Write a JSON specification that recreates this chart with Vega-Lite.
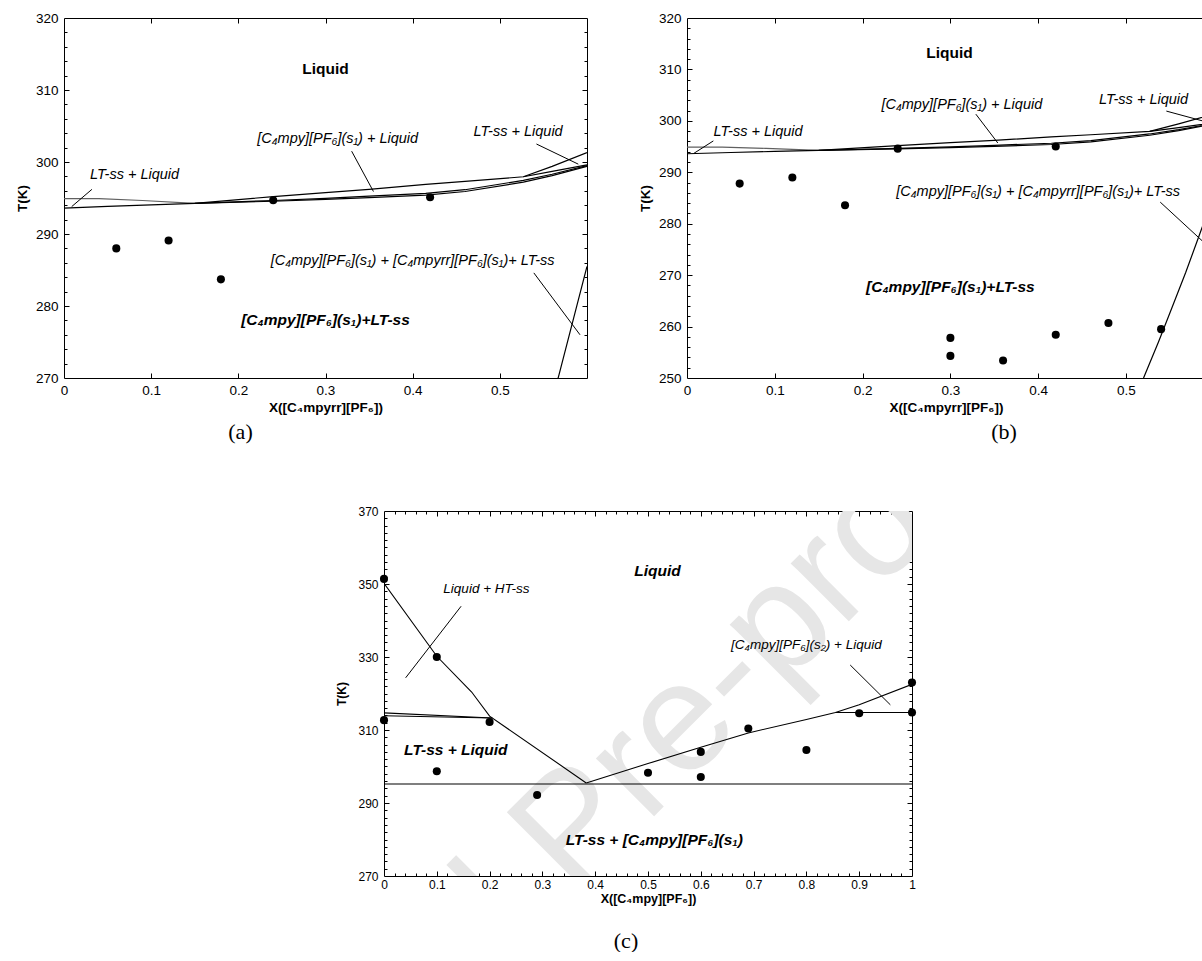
{
  "$schema": "https://vega.github.io/schema/vega-lite/v6.json",
  "background": "white",
  "padding": {"left": 14, "top": 10, "right": 0, "bottom": 0},
  "datasets": {
    "cab": [
      {"c":"lo1","x":0,"T":293.6},{"c":"lo1","x":0.05,"T":293.85},{"c":"lo1","x":0.1,"T":294.05},{"c":"lo1","x":0.15,"T":294.25},{"c":"lo1","x":0.24,"T":294.55},{"c":"lo1","x":0.3,"T":294.8},{"c":"lo1","x":0.35,"T":295.05},{"c":"lo1","x":0.415,"T":295.4},{"c":"lo1","x":0.46,"T":295.9},{"c":"lo1","x":0.527,"T":297.2},{"c":"lo1","x":0.56,"T":298.1},{"c":"lo1","x":0.6,"T":299.4},
      {"c":"lo2","x":0.15,"T":294.25},{"c":"lo2","x":0.24,"T":294.65},{"c":"lo2","x":0.3,"T":294.95},{"c":"lo2","x":0.35,"T":295.25},{"c":"lo2","x":0.415,"T":295.65},{"c":"lo2","x":0.46,"T":296.15},{"c":"lo2","x":0.527,"T":297.45},{"c":"lo2","x":0.56,"T":298.3},{"c":"lo2","x":0.6,"T":299.5},
      {"c":"up","x":0.15,"T":294.25},{"c":"up","x":0.24,"T":295.2},{"c":"up","x":0.3,"T":295.75},{"c":"up","x":0.35,"T":296.2},{"c":"up","x":0.415,"T":296.9},{"c":"up","x":0.46,"T":297.3},{"c":"up","x":0.527,"T":297.95},{"c":"up","x":0.56,"T":298.7},{"c":"up","x":0.6,"T":299.6},
      {"c":"up2","x":0.527,"T":297.95},{"c":"up2","x":0.56,"T":299.4},{"c":"up2","x":0.6,"T":301.3},
      {"c":"st","x":0.52,"T":250},{"c":"st","x":0.537,"T":257},{"c":"st","x":0.552,"T":263.5},{"c":"st","x":0.568,"T":270.5},{"c":"st","x":0.584,"T":278},{"c":"st","x":0.6,"T":285.5}
    ],
    "cab_g": [
      {"c":"g","x":0,"T":294.9},{"c":"g","x":0.04,"T":294.9},{"c":"g","x":0.09,"T":294.65},{"c":"g","x":0.15,"T":294.25}
    ],
    "pa": [
      {"x":0.06,"T":288.0},{"x":0.12,"T":289.1},{"x":0.18,"T":283.7},{"x":0.24,"T":294.7},{"x":0.42,"T":295.1}
    ],
    "pb": [
      {"x":0.06,"T":287.8},{"x":0.12,"T":289.0},{"x":0.18,"T":283.6},{"x":0.24,"T":294.6},{"x":0.42,"T":295.0},
      {"x":0.30,"T":257.8},{"x":0.30,"T":254.3},{"x":0.36,"T":253.4},{"x":0.42,"T":258.4},{"x":0.48,"T":260.7},{"x":0.54,"T":259.5}
    ],
    "lda": [
      {"x":0.0088,"T":293.8,"x2":0.032,"T2":296.2},
      {"x":0.33,"T":301.5,"x2":0.355,"T2":295.9},
      {"x":0.542,"T":302.5,"x2":0.59,"T2":299.7},
      {"x":0.539,"T":284.6,"x2":0.592,"T2":276.0}
    ],
    "ldb": [
      {"x":0.008,"T":293.7,"x2":0.03,"T2":296.1},
      {"x":0.329,"T":301.3,"x2":0.354,"T2":295.7},
      {"x":0.546,"T":301.9,"x2":0.6,"T2":299.4},
      {"x":0.539,"T":284.2,"x2":0.6,"T2":274.6}
    ],
    "ta_i": [
      {"x":0.081,"T":298.2,"t":"LT-ss + Liquid"},
      {"x":0.314,"T":303.2,"t":"[C₄mpy][PF₆](s₁) + Liquid"},
      {"x":0.521,"T":304.1,"t":"LT-ss + Liquid"},
      {"x":0.40,"T":286.2,"t":"[C₄mpy][PF₆](s₁) + [C₄mpyrr][PF₆](s₁)+ LT-ss"}
    ],
    "ta_b": [{"x":0.30,"T":312.9,"t":"Liquid"}],
    "ta_bi": [{"x":0.30,"T":278.1,"t":"[C₄mpy][PF₆](s₁)+LT-ss"}],
    "tb_i": [
      {"x":0.081,"T":297.9,"t":"LT-ss + Liquid"},
      {"x":0.313,"T":303.0,"t":"[C₄mpy][PF₆](s₁) + Liquid"},
      {"x":0.52,"T":304.0,"t":"LT-ss + Liquid"},
      {"x":0.40,"T":286.1,"t":"[C₄mpy][PF₆](s₁) + [C₄mpyrr][PF₆](s₁)+ LT-ss"}
    ],
    "tb_b": [{"x":0.299,"T":313.2,"t":"Liquid"}],
    "tb_bi": [{"x":0.30,"T":267.7,"t":"[C₄mpy][PF₆](s₁)+LT-ss"}],
    "cc": [
      {"c":"liqL","x":0,"T":350.2},{"c":"liqL","x":0.1,"T":330.2},{"c":"liqL","x":0.166,"T":320.4},{"c":"liqL","x":0.2,"T":313.8},{"c":"liqL","x":0.383,"T":295.5},
      {"c":"liqR","x":0.383,"T":295.5},{"c":"liqR","x":0.5,"T":300.8},{"c":"liqR","x":0.6,"T":305.3},{"c":"liqR","x":0.69,"T":309.2},{"c":"liqR","x":0.8,"T":312.9},{"c":"liqR","x":0.855,"T":314.8},{"c":"liqR","x":0.9,"T":316.9},{"c":"liqR","x":1.0,"T":322.5},
      {"c":"eut","x":0,"T":295.2},{"c":"eut","x":1,"T":295.2},
      {"c":"lt1","x":0,"T":314.7},{"c":"lt1","x":0.205,"T":313.3},
      {"c":"lt2","x":0,"T":313.9},{"c":"lt2","x":0.205,"T":313.3},
      {"c":"rh","x":0.855,"T":314.8},{"c":"rh","x":1.0,"T":314.8}
    ],
    "pc": [
      {"x":0,"T":351.4},{"x":0.1,"T":330.0},{"x":0,"T":312.7},{"x":0.2,"T":312.2},{"x":0.1,"T":298.7},{"x":0.29,"T":292.2},
      {"x":0.5,"T":298.3},{"x":0.6,"T":304.0},{"x":0.6,"T":297.1},{"x":0.69,"T":310.4},{"x":0.8,"T":304.5},{"x":0.9,"T":314.6},{"x":1.0,"T":314.8},{"x":1.0,"T":323.0}
    ],
    "ldc": [
      {"x":0.146,"T":343.9,"x2":0.041,"T2":324.3},
      {"x":0.883,"T":327.8,"x2":0.959,"T2":316.9}
    ],
    "tc_i": [
      {"x":0.194,"T":348.6,"t":"Liquid + HT-ss"},
      {"x":0.80,"T":333.2,"t":"[C₄mpy][PF₆](s₂) + Liquid"}
    ],
    "tc_bi": [
      {"x":0.518,"T":353.5,"t":"Liquid"},
      {"x":0.136,"T":304.5,"t":"LT-ss + Liquid"},
      {"x":0.512,"T":279.8,"t":"LT-ss + [C₄mpy][PF₆](s₁)"}
    ],
    "wm": [{"x":0.358,"T":264.2,"t":"Journal Pre-proof"}]
  },
  "vconcat": [
    {
      "hconcat": [
        {
          "width": 523,
          "height": 360,
          "title": {"text": "(a)", "orient": "bottom", "anchor": "middle", "offset": 8, "dx": -85},
          "resolve": {"axis": {"x": "independent", "y": "independent"}},
          "layer": [
            {
              "data": {"name": "cab_g"},
              "mark": {"type": "line", "color": "#606060", "strokeWidth": 1.2, "clip": true},
              "encoding": {
                "x": {"field": "x", "type": "quantitative", "scale": {"domain": [0, 0.6], "nice": false, "zero": false},
                      "axis": {"orient": "bottom", "values": [0, 0.1, 0.2, 0.3, 0.4, 0.5], "format": ".1~f", "labelFontSize": 13.5, "labelPadding": 5, "labelFlush": false, "labelOverlap": false, "title": "X([C₄mpyrr][PF₆])", "titleFontSize": 13.5, "titleFontWeight": "bold", "titlePadding": 4}},
                "y": {"field": "T", "type": "quantitative", "scale": {"domain": [270, 320], "nice": false, "zero": false},
                      "axis": {"orient": "left", "values": [270, 280, 290, 300, 310, 320], "labelFontSize": 13.5, "labelPadding": 6, "labelFlush": false, "labelOverlap": false, "title": "T(K)", "titleFontSize": 13.5, "titleFontWeight": "bold", "titlePadding": 6}}
              }
            },
            {
              "data": {"name": "cab"},
              "mark": {"type": "line", "color": "black", "strokeWidth": 1.2, "clip": true},
              "encoding": {
                "x": {"field": "x", "type": "quantitative", "scale": {"domain": [0, 0.6], "nice": false, "zero": false},
                      "axis": {"orient": "bottom", "values": [0.1, 0.2, 0.3, 0.4, 0.5], "labels": false, "ticks": true, "tickSize": 5, "offset": -5, "title": null}},
                "y": {"field": "T", "type": "quantitative", "scale": {"domain": [270, 320], "nice": false, "zero": false},
                      "axis": {"orient": "left", "values": [280, 290, 300, 310], "labels": false, "ticks": true, "tickSize": 5, "offset": -5, "title": null}},
                "detail": {"field": "c"}
              }
            },
            {
              "data": {"name": "pa"},
              "mark": {"type": "circle", "color": "black", "opacity": 1, "size": 65},
              "encoding": {
                "x": {"field": "x", "type": "quantitative", "scale": {"domain": [0, 0.6], "nice": false, "zero": false},
                      "axis": {"orient": "top", "values": [0.1, 0.2, 0.3, 0.4, 0.5], "labels": false, "ticks": true, "tickSize": 5, "offset": -5, "title": null}},
                "y": {"field": "T", "type": "quantitative", "scale": {"domain": [270, 320], "nice": false, "zero": false},
                      "axis": {"orient": "right", "values": [280, 290, 300, 310], "labels": false, "ticks": true, "tickSize": 5, "offset": -5, "title": null}}
              }
            },
            {
              "data": {"name": "lda"},
              "mark": {"type": "rule", "color": "black", "strokeWidth": 1, "clip": true},
              "encoding": {
                "x": {"field": "x", "type": "quantitative", "scale": {"domain": [0, 0.6], "nice": false, "zero": false}, "axis": null},
                "y": {"field": "T", "type": "quantitative", "scale": {"domain": [270, 320], "nice": false, "zero": false},
                      "axis": {"orient": "left", "values": [272,274,276,278,282,284,286,288,292,294,296,298,302,304,306,308,312,314,316,318], "labels": false, "ticks": true, "tickSize": 3, "offset": -3, "title": null}},
                "x2": {"field": "x2"},
                "y2": {"field": "T2"}
              }
            },
            {
              "data": {"name": "ta_i"},
              "mark": {"type": "text", "fontStyle": "italic", "fontSize": 14.5, "color": "black"},
              "encoding": {
                "x": {"field": "x", "type": "quantitative", "scale": {"domain": [0, 0.6], "nice": false, "zero": false}, "axis": null},
                "y": {"field": "T", "type": "quantitative", "scale": {"domain": [270, 320], "nice": false, "zero": false},
                      "axis": {"orient": "right", "values": [272,274,276,278,282,284,286,288,292,294,296,298,302,304,306,308,312,314,316,318], "labels": false, "ticks": true, "tickSize": 3, "offset": -3, "title": null}},
                "text": {"field": "t"}
              }
            },
            {
              "data": {"name": "ta_b"},
              "mark": {"type": "text", "fontWeight": "bold", "fontSize": 15.5, "color": "black"},
              "encoding": {
                "x": {"field": "x", "type": "quantitative", "scale": {"domain": [0, 0.6], "nice": false, "zero": false}, "axis": null},
                "y": {"field": "T", "type": "quantitative", "scale": {"domain": [270, 320], "nice": false, "zero": false}, "axis": null},
                "text": {"field": "t"}
              }
            },
            {
              "data": {"name": "ta_bi"},
              "mark": {"type": "text", "fontWeight": "bold", "fontStyle": "italic", "fontSize": 15.5, "color": "black"},
              "encoding": {
                "x": {"field": "x", "type": "quantitative", "scale": {"domain": [0, 0.6], "nice": false, "zero": false}, "axis": null},
                "y": {"field": "T", "type": "quantitative", "scale": {"domain": [270, 320], "nice": false, "zero": false}, "axis": null},
                "text": {"field": "t"}
              }
            }
          ]
        },
        {
          "width": 518,
          "height": 360,
          "view": {"stroke": null},
          "title": {"text": "(b)", "orient": "bottom", "anchor": "middle", "offset": 8, "dx": 58},
          "resolve": {"axis": {"x": "independent", "y": "independent"}},
          "layer": [
            {
              "data": {"name": "cab_g"},
              "mark": {"type": "line", "color": "#606060", "strokeWidth": 1.2, "clip": true},
              "encoding": {
                "x": {"field": "x", "type": "quantitative", "scale": {"domain": [0, 0.59], "nice": false, "zero": false},
                      "axis": {"orient": "bottom", "values": [0, 0.1, 0.2, 0.3, 0.4, 0.5], "format": ".1~f", "labelFontSize": 13.5, "labelPadding": 5, "labelFlush": false, "labelOverlap": false, "title": "X([C₄mpyrr][PF₆])", "titleFontSize": 13.5, "titleFontWeight": "bold", "titlePadding": 4, "domain": true}},
                "y": {"field": "T", "type": "quantitative", "scale": {"domain": [250, 320], "nice": false, "zero": false},
                      "axis": {"orient": "left", "values": [250, 260, 270, 280, 290, 300, 310, 320], "labelFontSize": 13.5, "labelPadding": 6, "labelFlush": false, "labelOverlap": false, "title": "T(K)", "titleFontSize": 13.5, "titleFontWeight": "bold", "titlePadding": 6, "domain": true}}
              }
            },
            {
              "data": {"name": "cab"},
              "mark": {"type": "line", "color": "black", "strokeWidth": 1.2, "clip": true},
              "encoding": {
                "x": {"field": "x", "type": "quantitative", "scale": {"domain": [0, 0.59], "nice": false, "zero": false},
                      "axis": {"orient": "bottom", "values": [0.1, 0.2, 0.3, 0.4, 0.5], "labels": false, "ticks": true, "tickSize": 5, "offset": -5, "title": null}},
                "y": {"field": "T", "type": "quantitative", "scale": {"domain": [250, 320], "nice": false, "zero": false},
                      "axis": {"orient": "left", "values": [260, 270, 280, 290, 300, 310], "labels": false, "ticks": true, "tickSize": 5, "offset": -5, "title": null}},
                "detail": {"field": "c"}
              }
            },
            {
              "data": {"name": "pb"},
              "mark": {"type": "circle", "color": "black", "opacity": 1, "size": 65},
              "encoding": {
                "x": {"field": "x", "type": "quantitative", "scale": {"domain": [0, 0.59], "nice": false, "zero": false},
                      "axis": {"orient": "top", "values": [0.1, 0.2, 0.3, 0.4, 0.5], "labels": false, "ticks": true, "tickSize": 5, "offset": -5, "title": null}},
                "y": {"field": "T", "type": "quantitative", "scale": {"domain": [250, 320], "nice": false, "zero": false},
                      "axis": {"orient": "left", "values": [252,254,256,258,262,264,266,268,272,274,276,278,282,284,286,288,292,294,296,298,302,304,306,308,312,314,316,318], "labels": false, "ticks": true, "tickSize": 3, "offset": -3, "title": null}}
              }
            },
            {
              "data": {"name": "ldb"},
              "mark": {"type": "rule", "color": "black", "strokeWidth": 1, "clip": true},
              "encoding": {
                "x": {"field": "x", "type": "quantitative", "scale": {"domain": [0, 0.59], "nice": false, "zero": false},
                      "axis": {"orient": "top", "labels": false, "ticks": false, "domain": true, "title": null}},
                "y": {"field": "T", "type": "quantitative", "scale": {"domain": [250, 320], "nice": false, "zero": false}, "axis": null},
                "x2": {"field": "x2"},
                "y2": {"field": "T2"}
              }
            },
            {
              "data": {"name": "tb_i"},
              "mark": {"type": "text", "fontStyle": "italic", "fontSize": 14.5, "color": "black"},
              "encoding": {
                "x": {"field": "x", "type": "quantitative", "scale": {"domain": [0, 0.59], "nice": false, "zero": false}, "axis": null},
                "y": {"field": "T", "type": "quantitative", "scale": {"domain": [250, 320], "nice": false, "zero": false}, "axis": null},
                "text": {"field": "t"}
              }
            },
            {
              "data": {"name": "tb_b"},
              "mark": {"type": "text", "fontWeight": "bold", "fontSize": 15.5, "color": "black"},
              "encoding": {
                "x": {"field": "x", "type": "quantitative", "scale": {"domain": [0, 0.59], "nice": false, "zero": false}, "axis": null},
                "y": {"field": "T", "type": "quantitative", "scale": {"domain": [250, 320], "nice": false, "zero": false}, "axis": null},
                "text": {"field": "t"}
              }
            },
            {
              "data": {"name": "tb_bi"},
              "mark": {"type": "text", "fontWeight": "bold", "fontStyle": "italic", "fontSize": 15.5, "color": "black"},
              "encoding": {
                "x": {"field": "x", "type": "quantitative", "scale": {"domain": [0, 0.59], "nice": false, "zero": false}, "axis": null},
                "y": {"field": "T", "type": "quantitative", "scale": {"domain": [250, 320], "nice": false, "zero": false}, "axis": null},
                "text": {"field": "t"}
              }
            }
          ]
        }
      ],
      "spacing": 50
    },
    {
      "hconcat": [
        {
          "width": 261,
          "height": 365,
          "view": {"stroke": null},
          "data": {"values": [{}]},
          "mark": {"type": "text", "text": ""}
        },
        {
          "width": 528,
          "height": 365,
          "title": {"text": "(c)", "orient": "bottom", "anchor": "middle", "offset": 26, "dx": -22},
          "resolve": {"axis": {"x": "independent", "y": "independent"}},
          "layer": [
            {
              "data": {"name": "wm"},
              "mark": {"type": "text", "fontSize": 155, "color": "#e6e6e6", "angle": 315, "align": "left", "baseline": "alphabetic", "dx": -551, "clip": true},
              "encoding": {
                "x": {"field": "x", "type": "quantitative", "scale": {"domain": [0, 1], "nice": false, "zero": false},
                      "axis": {"orient": "bottom", "values": [0.02,0.04,0.06,0.08,0.12,0.14,0.16,0.18,0.22,0.24,0.26,0.28,0.32,0.34,0.36,0.38,0.42,0.44,0.46,0.48,0.52,0.54,0.56,0.58,0.62,0.64,0.66,0.68,0.72,0.74,0.76,0.78,0.82,0.84,0.86,0.88,0.92,0.94,0.96,0.98], "labels": false, "ticks": true, "tickSize": 3, "offset": -3, "title": null}},
                "y": {"field": "T", "type": "quantitative", "scale": {"domain": [270, 370], "nice": false, "zero": false},
                      "axis": {"orient": "left", "values": [272,274,276,278,280,282,284,286,288,292,294,296,298,300,302,304,306,308,312,314,316,318,320,322,324,326,328,332,334,336,338,340,342,344,346,348,352,354,356,358,360,362,364,366,368], "labels": false, "ticks": true, "tickSize": 3, "offset": -3, "title": null}},
                "text": {"field": "t"}
              }
            },
            {
              "data": {"name": "cc"},
              "mark": {"type": "line", "color": "black", "strokeWidth": 1.1, "clip": true},
              "encoding": {
                "x": {"field": "x", "type": "quantitative", "scale": {"domain": [0, 1], "nice": false, "zero": false},
                      "axis": {"orient": "bottom", "values": [0, 0.1, 0.2, 0.3, 0.4, 0.5, 0.6, 0.7, 0.8, 0.9, 1], "format": ".1~f", "labelFontSize": 12, "labelPadding": 3, "labelFlush": false, "labelOverlap": false, "title": "X([C₄mpy][PF₆])", "titleFontSize": 12.5, "titleFontWeight": "bold", "titlePadding": 2}},
                "y": {"field": "T", "type": "quantitative", "scale": {"domain": [270, 370], "nice": false, "zero": false},
                      "axis": {"orient": "left", "values": [270, 290, 310, 330, 350, 370], "labelFontSize": 12, "labelPadding": 6, "labelFlush": false, "labelOverlap": false, "title": "T(K)", "titleFontSize": 12, "titleFontWeight": "bold", "titlePadding": 9}},
                "detail": {"field": "c"}
              }
            },
            {
              "data": {"name": "pc"},
              "mark": {"type": "circle", "color": "black", "opacity": 1, "size": 65},
              "encoding": {
                "x": {"field": "x", "type": "quantitative", "scale": {"domain": [0, 1], "nice": false, "zero": false},
                      "axis": {"orient": "bottom", "values": [0.1, 0.2, 0.3, 0.4, 0.5, 0.6, 0.7, 0.8, 0.9], "labels": false, "ticks": true, "tickSize": 5, "offset": -5, "title": null}},
                "y": {"field": "T", "type": "quantitative", "scale": {"domain": [270, 370], "nice": false, "zero": false},
                      "axis": {"orient": "left", "values": [290, 310, 330, 350], "labels": false, "ticks": true, "tickSize": 5, "offset": -5, "title": null}}
              }
            },
            {
              "data": {"name": "ldc"},
              "mark": {"type": "rule", "color": "black", "strokeWidth": 1, "clip": true},
              "encoding": {
                "x": {"field": "x", "type": "quantitative", "scale": {"domain": [0, 1], "nice": false, "zero": false},
                      "axis": {"orient": "top", "values": [0.1, 0.2, 0.3, 0.4, 0.5, 0.6, 0.7, 0.8, 0.9], "labels": false, "ticks": true, "tickSize": 5, "offset": -5, "title": null}},
                "y": {"field": "T", "type": "quantitative", "scale": {"domain": [270, 370], "nice": false, "zero": false},
                      "axis": {"orient": "right", "values": [290, 310, 330, 350], "labels": false, "ticks": true, "tickSize": 5, "offset": -5, "title": null}},
                "x2": {"field": "x2"},
                "y2": {"field": "T2"}
              }
            },
            {
              "data": {"name": "tc_i"},
              "mark": {"type": "text", "fontStyle": "italic", "fontSize": 13.5, "color": "black"},
              "encoding": {
                "x": {"field": "x", "type": "quantitative", "scale": {"domain": [0, 1], "nice": false, "zero": false},
                      "axis": {"orient": "top", "values": [0.02,0.04,0.06,0.08,0.12,0.14,0.16,0.18,0.22,0.24,0.26,0.28,0.32,0.34,0.36,0.38,0.42,0.44,0.46,0.48,0.52,0.54,0.56,0.58,0.62,0.64,0.66,0.68,0.72,0.74,0.76,0.78,0.82,0.84,0.86,0.88,0.92,0.94,0.96,0.98], "labels": false, "ticks": true, "tickSize": 3, "offset": -3, "title": null}},
                "y": {"field": "T", "type": "quantitative", "scale": {"domain": [270, 370], "nice": false, "zero": false},
                      "axis": {"orient": "right", "values": [272,274,276,278,280,282,284,286,288,292,294,296,298,300,302,304,306,308,312,314,316,318,320,322,324,326,328,332,334,336,338,340,342,344,346,348,352,354,356,358,360,362,364,366,368], "labels": false, "ticks": true, "tickSize": 3, "offset": -3, "title": null}},
                "text": {"field": "t"}
              }
            },
            {
              "data": {"name": "tc_bi"},
              "mark": {"type": "text", "fontWeight": "bold", "fontStyle": "italic", "fontSize": 15.5, "color": "black"},
              "encoding": {
                "x": {"field": "x", "type": "quantitative", "scale": {"domain": [0, 1], "nice": false, "zero": false}, "axis": null},
                "y": {"field": "T", "type": "quantitative", "scale": {"domain": [270, 370], "nice": false, "zero": false}, "axis": null},
                "text": {"field": "t"}
              }
            }
          ]
        }
      ],
      "spacing": 10
    }
  ],
  "spacing": 60,
  "config": {
    "font": "Liberation Sans",
    "view": {"stroke": "black", "strokeWidth": 1},
    "axis": {"grid": false, "ticks": false, "domain": false, "labelColor": "black", "titleColor": "black", "tickColor": "black", "domainColor": "black", "tickWidth": 1, "labelFont": "Liberation Sans", "titleFont": "Liberation Sans"},
    "title": {"font": "Liberation Serif", "fontSize": 22, "fontWeight": "normal", "color": "black"},
    "text": {"font": "Liberation Sans", "color": "black"}
  }
}
